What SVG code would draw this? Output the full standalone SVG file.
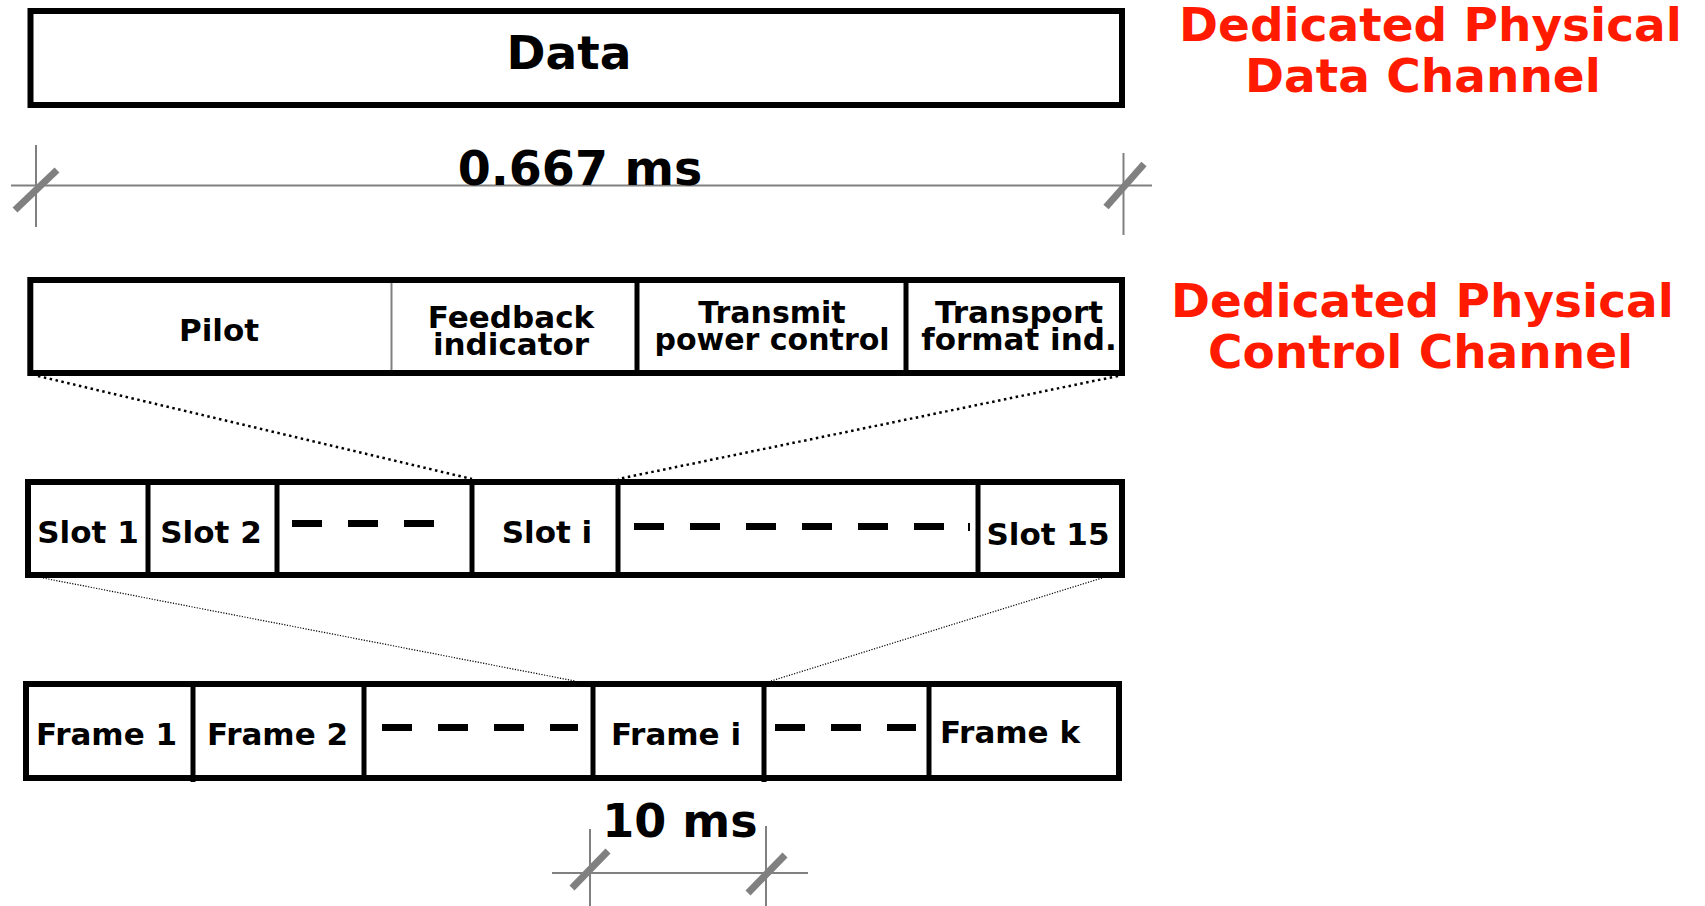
<svg xmlns="http://www.w3.org/2000/svg" width="1705" height="906" viewBox="0 0 1705 906">
<style>
  .box { fill: #ffffff; stroke: #000000; stroke-width: 6; }
  .div { stroke: #000000; stroke-width: 5; }
  .thin { stroke: #808080; stroke-width: 2; }
  .t { font-family: "DejaVu Sans", Verdana, sans-serif; font-weight: bold; fill: #000000; text-anchor: middle; }
  .red { font-family: "DejaVu Sans", Verdana, sans-serif; font-weight: bold; fill: #ff1a00; font-size: 47px; }
  .dash { stroke: #000000; stroke-width: 7; stroke-dasharray: 30 26; }
  .dim { stroke: #808080; stroke-width: 2; fill: none; }
  .slash { stroke: #808080; stroke-width: 7; }
  .dotA { stroke: #000000; stroke-width: 2.5; stroke-dasharray: 2.5 3.5; fill: none; }
  .dotB { stroke: #000000; stroke-width: 1.2; stroke-dasharray: 1.2 1.5; fill: none; }
</style>
<rect width="1705" height="906" fill="#ffffff"/>

<g id="dpdch">
  <rect class="box" x="30.5" y="11" width="1091.5" height="94"/>
  <text class="t" x="569" y="69" font-size="47">Data</text>
</g>

<g id="dim-0667">
  <line class="dim" x1="11" y1="185.5" x2="1152" y2="185.5"/>
  <line class="dim" x1="36" y1="145" x2="36" y2="227"/>
  <line class="dim" x1="1123.5" y1="153" x2="1123.5" y2="235"/>
  <line class="slash" x1="15" y1="210" x2="57" y2="170"/>
  <line class="slash" x1="1106" y1="207" x2="1144" y2="164"/>
  <text class="t" x="580" y="185" font-size="47.5">0.667 ms</text>
</g>

<g id="label-dpdch">
  <text class="red" x="1179" y="41">Dedicated Physical</text>
  <text class="red" x="1245" y="92">Data Channel</text>
</g>

<g id="dpcch">
  <rect class="box" x="30.3" y="280" width="1091.7" height="93"/>
  <line class="thin" x1="391.5" y1="283" x2="391.5" y2="370"/>
  <line class="div" x1="637" y1="283" x2="637" y2="370"/>
  <line class="div" x1="906" y1="283" x2="906" y2="376"/>
  <text class="t" x="219" y="341" font-size="31">Pilot</text>
  <text class="t" x="511" y="328" font-size="31">Feedback</text>
  <text class="t" x="511" y="355" font-size="31">indicator</text>
  <text class="t" x="772" y="323" font-size="30">Transmit</text>
  <text class="t" x="772" y="350" font-size="30">power control</text>
  <text class="t" x="1019" y="323" font-size="31">Transport</text>
  <text class="t" x="1019" y="350" font-size="31">format ind.</text>
</g>

<g id="label-dpcch">
  <text class="red" x="1171" y="317">Dedicated Physical</text>
  <text class="red" x="1208" y="368">Control Channel</text>
</g>

<g id="slots">
  <rect class="box" x="28" y="482" width="1094" height="93"/>
  <line class="div" x1="148" y1="482" x2="148" y2="575"/>
  <line class="div" x1="277" y1="482" x2="277" y2="575"/>
  <line class="div" x1="472" y1="482" x2="472" y2="575"/>
  <line class="div" x1="618" y1="482" x2="618" y2="575"/>
  <line class="div" x1="978" y1="482" x2="978" y2="575"/>
  <line class="dash" x1="292" y1="523.5" x2="436" y2="523.5"/>
  <line class="dash" x1="634" y1="526.5" x2="946" y2="526.5"/>
  <line stroke="#000" stroke-width="2" x1="969" y1="523" x2="969" y2="531"/>
  <text class="t" x="88" y="543" font-size="31">Slot 1</text>
  <text class="t" x="211" y="543" font-size="31">Slot 2</text>
  <text class="t" x="547" y="543" font-size="31">Slot i</text>
  <text class="t" x="1048" y="545" font-size="31">Slot 15</text>
</g>

<g id="frames">
  <rect class="box" x="26" y="684" width="1093" height="94"/>
  <line class="div" x1="193" y1="684" x2="193" y2="782"/>
  <line class="div" x1="364" y1="684" x2="364" y2="778"/>
  <line class="div" x1="593" y1="684" x2="593" y2="778"/>
  <line class="div" x1="764" y1="684" x2="764" y2="782"/>
  <line class="div" x1="929" y1="684" x2="929" y2="778"/>
  <line class="dash" x1="382" y1="727.5" x2="578" y2="727.5"/>
  <line class="dash" x1="775" y1="727.5" x2="916" y2="727.5"/>
  <text class="t" x="106.5" y="745" font-size="31">Frame 1</text>
  <text class="t" x="277.5" y="745" font-size="31">Frame 2</text>
  <text class="t" x="676" y="745" font-size="31">Frame i</text>
  <text class="t" x="1010" y="743" font-size="31">Frame k</text>
</g>

<g id="dim-10ms">
  <line class="dim" x1="552" y1="873" x2="808" y2="873"/>
  <line class="dim" x1="590" y1="829" x2="590" y2="906"/>
  <line class="dim" x1="766" y1="826" x2="766" y2="906"/>
  <line class="slash" x1="572" y1="888" x2="608" y2="851"/>
  <line class="slash" x1="748" y1="893" x2="785" y2="855"/>
  <text class="t" x="680" y="837" font-size="46">10 ms</text>
</g>

<g id="connectors">
  <line class="dotA" x1="38" y1="376" x2="472" y2="479"/>
  <line class="dotA" x1="1118" y1="376" x2="618" y2="479"/>
  <line class="dotB" x1="43" y1="578" x2="575" y2="681"/>
  <line class="dotB" x1="1102" y1="578" x2="771" y2="681"/>
</g>
</svg>
